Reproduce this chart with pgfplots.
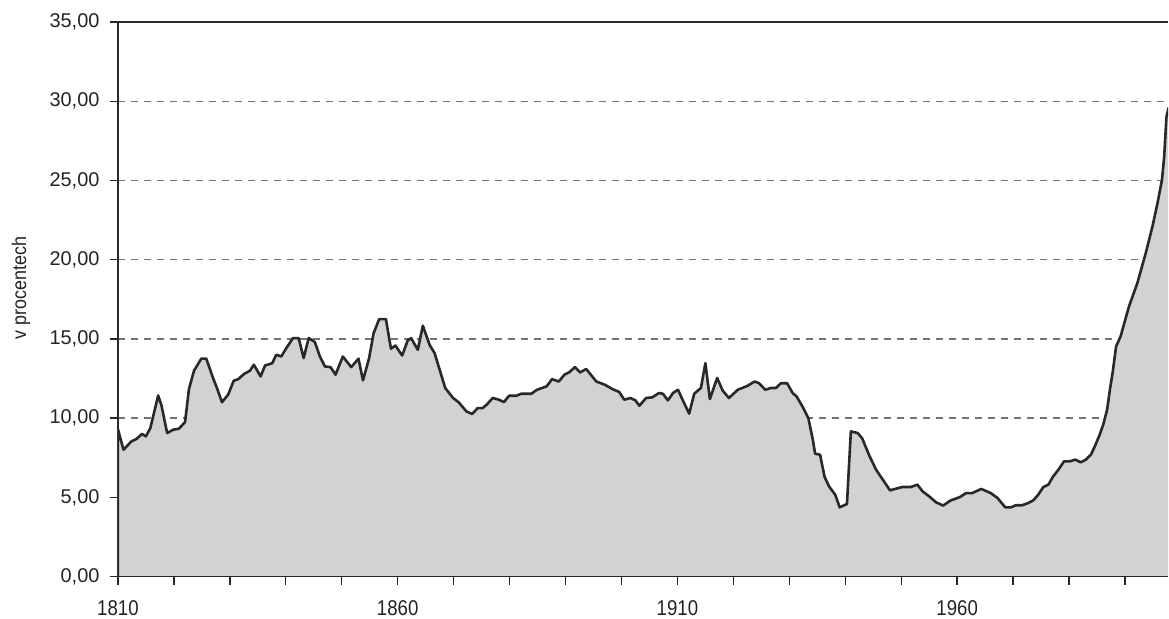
\documentclass[border=0pt]{standalone}
\usepackage{fontspec}
\setmainfont{Liberation Sans}
\newfontfamily\narrowfont{Liberation Sans}[FakeStretch=0.9]
\newfontfamily\xfont{Liberation Sans}[FakeStretch=0.87]
\usepackage{pgfplots}
\usepackage{pgfplotstable}
\pgfplotsset{compat=1.18}
\definecolor{areafill}{RGB}{209,210,212}
\definecolor{linecol}{RGB}{40,40,40}
\definecolor{gridcol}{RGB}{115,115,115}
\definecolor{txtcol}{RGB}{35,35,35}
\pgfplotstableread{
year value
1810 0
1810 9.31
1811 8.0
1812.4 8.53
1813.3 8.68
1814.3 9.0
1815 8.85
1815.8 9.37
1817.2 11.43
1817.8 10.78
1818.8 9.06
1819.9 9.27
1820.9 9.33
1822 9.75
1822.7 11.83
1823.6 12.99
1824.9 13.75
1825.8 13.75
1827 12.53
1827.7 11.9
1828.6 11.0
1829.7 11.48
1830.7 12.36
1831.5 12.46
1832.6 12.8
1833.6 12.99
1834.3 13.37
1835.5 12.63
1836.3 13.32
1837.6 13.47
1838.3 14.0
1839.2 13.89
1840.1 14.42
1841.3 15.05
1842.3 15.05
1843.2 13.79
1844.1 15.05
1845.2 14.8
1846.1 13.89
1847 13.26
1848 13.22
1848.9 12.74
1850.2 13.89
1851.7 13.22
1853 13.75
1853.8 12.38
1854.9 13.79
1855.7 15.36
1856.7 16.25
1857.9 16.25
1858.8 14.38
1859.6 14.58
1860.8 13.95
1861.8 14.9
1862.4 15.05
1863.6 14.31
1864.5 15.83
1865.7 14.63
1866.6 14.1
1868.5 11.9
1869.9 11.27
1870.9 11.0
1872.3 10.42
1873.3 10.26
1874.3 10.63
1875.2 10.63
1875.9 10.85
1877 11.27
1878.1 11.16
1879 11.01
1879.9 11.41
1881.2 11.41
1882.1 11.54
1883.9 11.54
1884.9 11.79
1886.6 12.0
1887.6 12.46
1888.8 12.31
1889.8 12.74
1890.7 12.9
1891.7 13.22
1892.6 12.88
1893.7 13.1
1895.5 12.31
1897 12.11
1898.4 11.83
1899.6 11.65
1900.5 11.16
1901.6 11.27
1902.5 11.12
1903.2 10.78
1904.4 11.27
1905.5 11.31
1906.7 11.58
1907.4 11.54
1908.3 11.12
1909.2 11.58
1910.1 11.79
1911 11.1
1912.1 10.28
1913 11.54
1914.2 11.9
1915 13.47
1915.8 11.2
1917.1 12.53
1918.1 11.73
1919.2 11.27
1920.8 11.79
1922 11.96
1922.6 12.05
1923.8 12.31
1924.6 12.2
1925.7 11.79
1926.7 11.9
1927.6 11.9
1928.5 12.2
1929.6 12.2
1930.6 11.58
1931.3 11.37
1932.4 10.7
1933.4 10.0
1934.2 8.64
1934.6 7.76
1935.5 7.69
1936.3 6.29
1937.1 5.69
1938.2 5.17
1939 4.37
1940.3 4.58
1941 9.16
1942.2 9.06
1943 8.74
1944.3 7.63
1945.5 6.75
1946.7 6.12
1948 5.44
1949.1 5.55
1950.2 5.65
1951.7 5.65
1952.9 5.8
1953.8 5.38
1955 5.06
1956.2 4.69
1957.5 4.48
1958.8 4.8
1960.5 5.02
1961.6 5.27
1962.7 5.27
1964.3 5.53
1966 5.27
1967.2 4.96
1968.6 4.37
1969.6 4.37
1970.5 4.5
1971.6 4.5
1972.7 4.64
1973.6 4.81
1974.5 5.17
1975.4 5.65
1976.3 5.8
1977.1 6.29
1978.1 6.75
1979.1 7.27
1980.1 7.27
1981.1 7.38
1982.1 7.21
1983 7.38
1983.9 7.69
1984.6 8.22
1985.4 8.89
1986.1 9.58
1986.8 10.53
1987.3 11.8
1987.8 12.9
1988.4 14.52
1989.2 15.15
1990.7 17.04
1992.2 18.52
1993.7 20.41
1994.9 22.09
1995.8 23.56
1996.6 25.03
1997 26.5
1997.4 29.0
1997.8 29.6
}\datatable
\begin{document}
\begin{tikzpicture}
\begin{axis}[
  scale only axis,
  width=1051bp, height=555bp,
  xmin=1810, xmax=1997.7,
  ymin=0, ymax=35,
  axis x line=box,
  axis y line=left,
  y axis line style={-},
  x axis line style={-},
  axis line style={linecol, line width=1.8bp},
  xtick pos=left, ytick pos=left,
  tick align=outside,
  major tick length=8bp,
  tick style={linecol, line width=1.4bp},
  xtick={1810,1820,...,1990},
  xticklabels={1810,,,,,1860,,,,,1910,,,,,1960,,,,},
  ytick={10,15,20,25,30},
  extra y ticks={0,5,35},
  extra y tick style={grid=none},
  ymajorgrids,
  major grid style={gridcol, line width=1.3bp, dash pattern=on 7bp off 6bp},
  /pgf/number format/assume math mode=true,
  y tick label style={/pgf/number format/.cd, fixed, fixed zerofill, precision=2, use comma, /tikz/.cd, font=\fontsize{20}{20}\selectfont, text=txtcol, xshift=-7bp},
  x tick label style={font=\xfont\fontsize{21.5}{21.5}\selectfont, text=txtcol, yshift=-12bp},
  ylabel={v procentech},
  ylabel style={font=\narrowfont\fontsize{20}{20}\selectfont, text=txtcol, at={(axis description cs:-0.0923,0.52)}, anchor=center},
]
\addplot[draw=none, fill=areafill] table[x=year, y=value] {\datatable} \closedcycle;
\addplot[linecol, line width=2.6bp, line join=round] table[x=year, y=value] {\datatable};
\draw[linecol, line width=1.8bp] (rel axis cs:0,1) -- (rel axis cs:0,0) -- (rel axis cs:1,0);
\end{axis}
\path[use as bounding box] ([shift={(-118bp,-38bp)}]current axis.south west) rectangle ([shift={(0bp,22bp)}]current axis.north east);
\end{tikzpicture}
\end{document}
